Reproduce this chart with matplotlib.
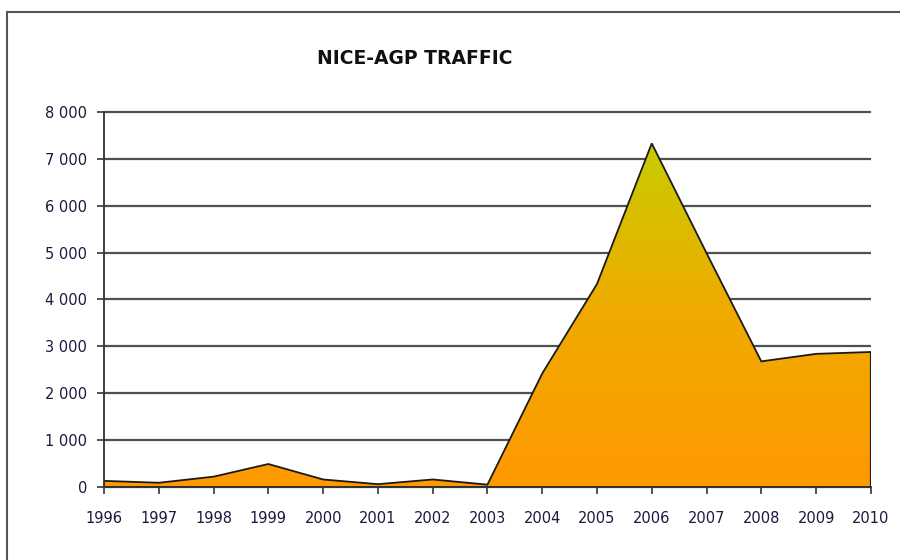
import numpy as np
import matplotlib.pyplot as plt
from matplotlib.colors import LinearSegmentedColormap
from matplotlib.patches import Polygon, Rectangle
from matplotlib.ticker import FuncFormatter

years = [1996, 1997, 1998, 1999, 2000, 2001, 2002, 2003,
         2004, 2005, 2006, 2007, 2008, 2009, 2010]
traffic = [130, 90, 220, 490, 160, 60, 160, 50,
           2420, 4330, 7330, 4990, 2680, 2840, 2880]

plt.rcParams['font.family'] = ['DejaVu Sans']

fig = plt.figure(figsize=(9, 5.6), dpi=100)
ax = fig.add_axes([0.1156, 0.1304, 0.852, 0.6696])

# frame round the chart
fig.patches.append(Rectangle((7 / 900, -0.1), 1.1, (560 - 12) / 560 + 0.1,
                             transform=fig.transFigure, fill=False,
                             edgecolor='#555555', linewidth=1.5))

x = np.arange(len(years))
ax.set_xlim(0, len(years) - 1)
ax.set_ylim(0, 8000)

# gradient fill clipped to the area
cmap = LinearSegmentedColormap.from_list('traf', ['#ff9900', '#f0aa00', '#c8cc00'])
grad = np.linspace(0, 1, 256).reshape(-1, 1)
im = ax.imshow(grad, cmap=cmap, aspect='auto', origin='lower',
               extent=[0, len(years) - 1, 0, max(traffic)], zorder=3)
verts = [(0, 0)] + list(zip(x, traffic)) + [(len(years) - 1, 0)]
poly = Polygon(verts, closed=True, facecolor='none', edgecolor='#1a1a1a',
               linewidth=1.3, zorder=4)
ax.add_patch(poly)
im.set_clip_path(poly)

ax.set_yticks(np.arange(0, 8001, 1000))
ax.yaxis.set_major_formatter(FuncFormatter(lambda v, p: f'{int(v):,}'.replace(',', ' ')))
ax.set_xticks(x)
ax.set_xticklabels([str(y) for y in years])
ax.grid(axis='y', color='#505050', linewidth=1.6, zorder=1)
ax.set_axisbelow(True)
for gl in ax.yaxis.get_gridlines():
    gl.set_clip_on(False)
    gl.set_solid_capstyle('butt')

for s in ['top', 'right']:
    ax.spines[s].set_visible(False)
for s in ['left', 'bottom']:
    ax.spines[s].set_color('#333333')
    ax.spines[s].set_linewidth(1.3)
    ax.spines[s].set_zorder(5)
ax.tick_params(axis='both', colors='#333333', labelcolor='#1a1a40',
               labelsize=10.5, length=5, width=1.2)
ax.tick_params(axis='x', pad=12)
ax.tick_params(axis='y', pad=7)

fig.text(0.461, 0.895, 'NICE-AGP TRAFFIC', ha='center', va='center',
         fontsize=13.5, fontweight='bold', color='#111111')

plt.savefig('out.png')
